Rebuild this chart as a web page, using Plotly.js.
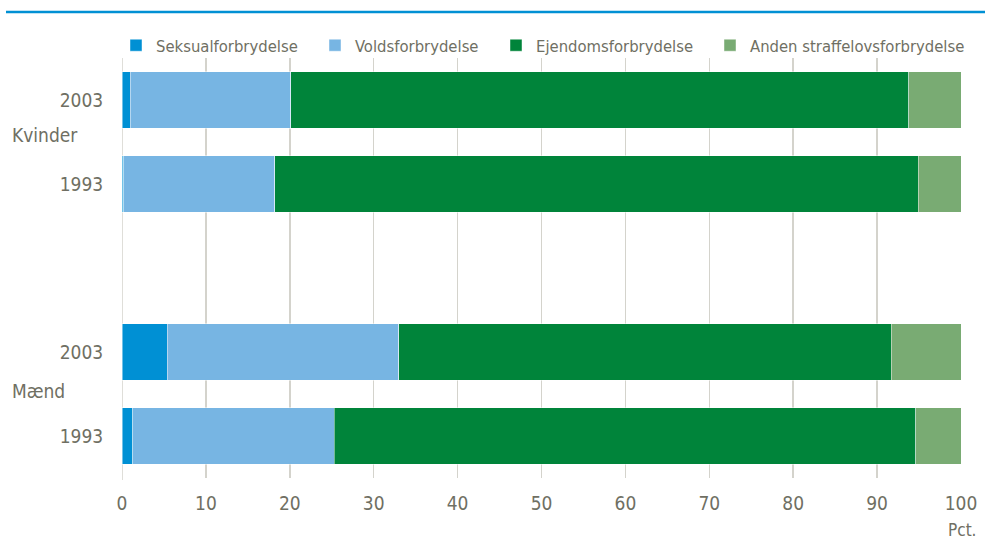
<!DOCTYPE html>
<html>
<head>
<meta charset="utf-8">
<script src="https://cdn.plot.ly/plotly-3.0.1.min.js"></script>
<style>html,body{margin:0;padding:0;background:#fff;} #chart{width:985px;height:539px;}</style>
</head>
<body>
<div id="chart"></div>
<script>
// Categories (bottom to top), with an empty slot between the groups
const categories = ["Mænd 1993", "Mænd 2003", "gap", "Kvinder 1993", "Kvinder 2003"];
const tickLabels = ["1993", "2003", "", "1993", "2003"];
const barCats = ["Mænd 1993", "Mænd 2003", "Kvinder 1993", "Kvinder 2003"];
const groupLabels = ["Kvinder", "Mænd"];

// Shares in percent, order matches barCats
const seksual   = [1.3, 5.4, 0.2, 1.0];
const volds     = [24.0, 27.6, 18.0, 19.1];
const ejendoms  = [69.3, 58.7, 76.7, 73.7];
const anden     = [5.4, 8.3, 5.1, 6.2];

const seriesNames = ["Seksualforbrydelse", "Voldsforbrydelse", "Ejendomsforbrydelse", "Anden straffelovsforbrydelse"];
const seriesColors = ["#0090d4", "#77b5e3", "#00843a", "#79ab73"];
const seriesData = [seksual, volds, ejendoms, anden];

const FONT = "'DejaVu Sans Condensed', Roboto, sans-serif";
const TXT = "#6f6f63";

// one legend box per series so each key sits where the original has it
const legendSquareX = [131, 330, 511, 725];
const legendIds = ["legend", "legend2", "legend3", "legend4"];

const traces = seriesData.map((vals, i) => ({
  type: "bar",
  orientation: "h",
  name: seriesNames[i],
  legend: legendIds[i],
  showlegend: true,
  y: barCats,
  x: vals,
  width: 0.667,
  marker: {color: seriesColors[i], line: {color: "rgba(255,255,255,0.45)", width: 1}},
  hoverinfo: "x+name"
}));

const layout = {
  width: 985, height: 539,
  margin: {l: 122, r: 24, t: 58, b: 61, autoexpand: false},
  barmode: "stack",
  paper_bgcolor: "#fff",
  plot_bgcolor: "#fff",
  font: {family: FONT, size: 19, color: TXT},
  showlegend: true,
  xaxis: {
    range: [0, 100], dtick: 10, tick0: 0,
    showgrid: true, gridcolor: "#d4d3cc", gridwidth: 1.5,
    zeroline: false, showline: false,
    ticks: "outside", ticklen: 8, tickcolor: "rgba(0,0,0,0)",
    tickfont: {family: FONT, size: 19, color: TXT},
    fixedrange: true
  },
  yaxis: {
    type: "category",
    categoryorder: "array", categoryarray: categories,
    tickvals: categories, ticktext: tickLabels,
    range: [-0.5, 4.5],
    showgrid: false, zeroline: false, showline: false,
    ticks: "outside", ticklen: 14, tickcolor: "rgba(0,0,0,0)",
    tickfont: {family: FONT, size: 19, color: TXT},
    fixedrange: true
  },
  shapes: [
    {type: "line", xref: "x", yref: "paper", x0: 0, x1: 0, y0: -0.005, y1: 1, line: {color: "#d4d3cc", width: 1.5}, layer: "below"}
  ],
  annotations: [
    {text: groupLabels[0], xref: "paper", yref: "y", x: -0.1335, y: 3.58, xanchor: "left", yanchor: "middle", showarrow: false, font: {family: FONT, size: 19, color: TXT}},
    {text: groupLabels[1], xref: "paper", yref: "y", x: -0.1335, y: 0.54, xanchor: "left", yanchor: "middle", showarrow: false, font: {family: FONT, size: 19, color: TXT}},
    {text: "Pct.", xref: "paper", yref: "paper", x: (978 - 122) / 839, y: -0.124, xanchor: "right", yanchor: "middle", showarrow: false, font: {family: FONT, size: 17, color: TXT}}
  ]
};

legendIds.forEach((id, i) => {
  layout[id] = {
    orientation: "h",
    x: (legendSquareX[i] - 15 - 122) / 839, xanchor: "left",
    y: 1 + 12.5 / 420, yanchor: "middle",
    font: {family: FONT, size: 16.5, color: TXT},
    itemclick: false, bgcolor: "rgba(0,0,0,0)", borderwidth: 0
  };
});

// Blue rule across the top
layout.shapes.push({type: "line", xref: "paper", yref: "paper",
  x0: -116/839, x1: 1 + 24/839, y0: 1 + 46/420, y1: 1 + 46/420,
  line: {color: "#0090d4", width: 2.5}});

Plotly.newPlot("chart", traces, layout, {displayModeBar: false, staticPlot: true});
</script>
</body>
</html>
